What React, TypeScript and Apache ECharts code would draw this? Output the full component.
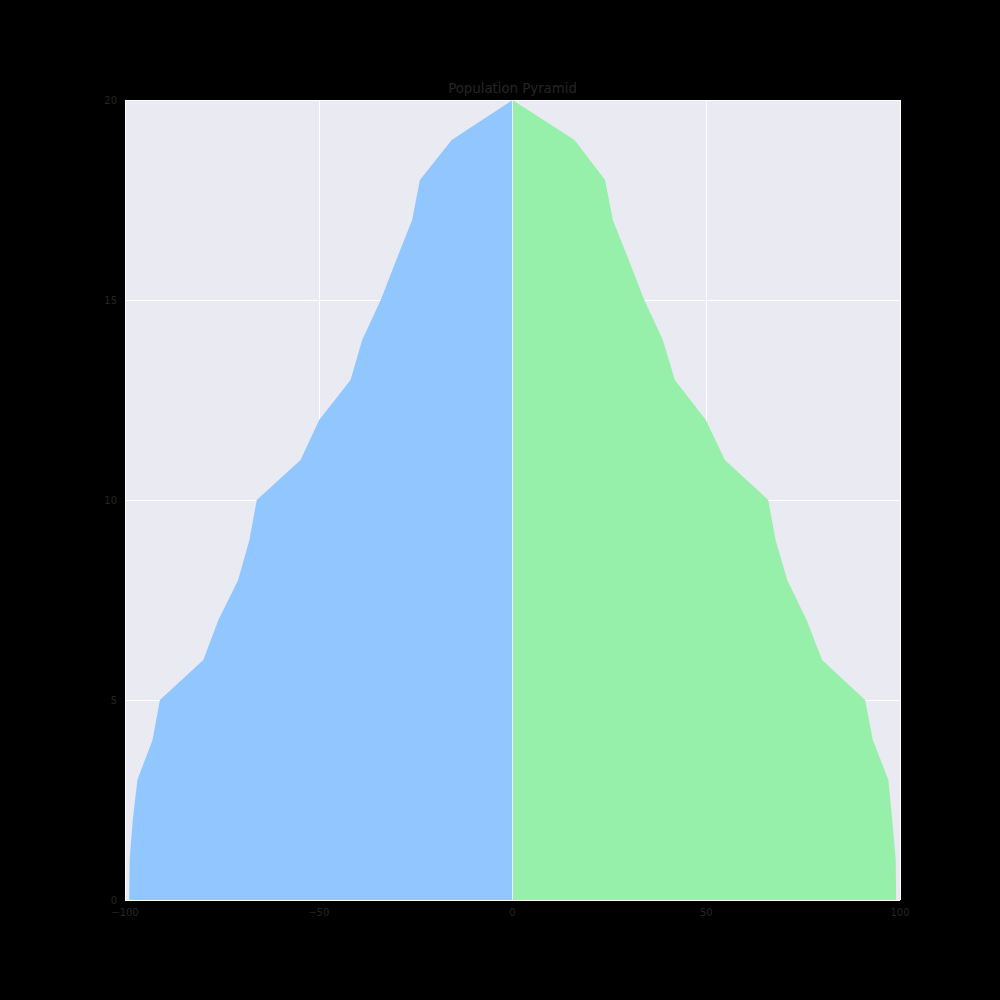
import React, { useEffect, useRef } from "react";
import * as echarts from "echarts";

const AGE_LEVELS = ["0","1","2","3","4","5","6","7","8","9","10","11","12","13","14","15","16","17","18","19","20"];
const LEFT_POP = [98.9, 98.8, 98.0, 96.8, 92.9, 91.0, 79.8, 75.9, 70.8, 67.9, 66.0, 54.7, 49.9, 41.8, 38.8, 34.0, 30.0, 25.9, 23.9, 15.7, 0];
const RIGHT_POP = [99.0, 98.9, 98.0, 97.0, 93.0, 91.0, 79.9, 75.9, 70.9, 67.9, 66.0, 54.8, 49.9, 41.9, 38.8, 34.0, 30.0, 25.9, 23.9, 16.0, 0];
const X_TICKS = { min: -100, max: 100, interval: 50 };
const TITLE = "Population Pyramid";

export default function App() {
  const ref = useRef<HTMLDivElement>(null);
  useEffect(() => {
    if (!ref.current) return;
    const chart = echarts.init(ref.current, undefined, { renderer: "svg" });
    const font = "DejaVu Sans";
    chart.setOption({
      animation: false,
      backgroundColor: "#000000",
      title: {
        text: TITLE,
        left: 512.5,
        textAlign: "center",
        top: 82,
        padding: 0,
        textStyle: { color: "#262626", fontSize: 13.3, fontWeight: "normal", fontFamily: font },
      },
      grid: {
        left: 125,
        right: 100,
        top: 100,
        bottom: 100,
        show: true,
        backgroundColor: "#EAEAF2",
        borderWidth: 0,
      },
      xAxis: {
        type: "value",
        min: X_TICKS.min,
        max: X_TICKS.max,
        interval: X_TICKS.interval,
        axisLine: { show: false },
        axisTick: { show: false },
        axisLabel: {
          color: "#262626",
          fontSize: 10,
          fontFamily: font,
          margin: 7,
          formatter: (v: number) => String(v).replace("-", "\u2212"),
        },
        splitLine: { show: true, lineStyle: { color: "#FFFFFF", width: 1 } },
      },
      yAxis: {
        type: "category",
        data: AGE_LEVELS,
        boundaryGap: false,
        axisLine: { show: false },
        axisTick: { show: false },
        axisLabel: { color: "#262626", fontSize: 10, fontFamily: font, interval: 4, margin: 8 },
        splitLine: { show: true, interval: 4, lineStyle: { color: "#FFFFFF", width: 1 } },
      },
      series: [
        {
          type: "line",
          data: LEFT_POP.map((v, i) => [-v, i]),
          symbol: "none",
          lineStyle: { width: 0, opacity: 0 },
          areaStyle: { color: "#92C6FF", opacity: 1 },
          z: 2,
        },
        {
          type: "line",
          data: RIGHT_POP.map((v, i) => [v, i]),
          symbol: "none",
          lineStyle: { width: 0, opacity: 0 },
          areaStyle: { color: "#97F0AA", opacity: 1 },
          z: 2,
          markLine: {
            silent: true,
            symbol: "none",
            label: { show: false },
            lineStyle: { color: "#F4F6FA", width: 1, type: "solid" },
            data: [{ xAxis: 0 }],
          },
        },
      ],
    });
    return () => chart.dispose();
  }, []);
  return (
    <div
      ref={ref}
      style={{ position: "fixed", left: 0, top: 0, width: 1000, height: 1000, background: "#000" }}
    />
  );
}
